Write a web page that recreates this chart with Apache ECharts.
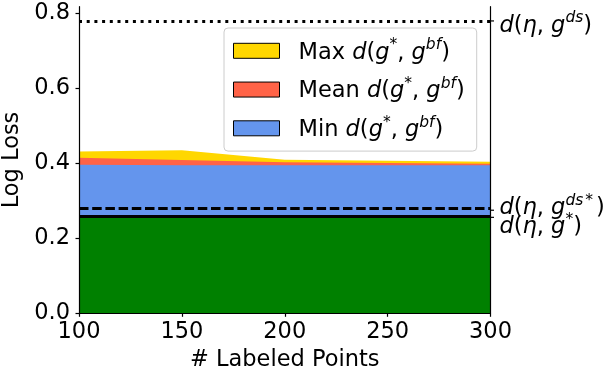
<!DOCTYPE html>
<html>
<head>
<meta charset="utf-8">
<script src="https://cdn.jsdelivr.net/npm/echarts@6/dist/echarts.min.js"></script>
<style>
  html, body { margin: 0; padding: 0; background: #fff; }
  #chart { width: 608px; height: 373px; }
</style>
</head>
<body>
<div id="chart"></div>
<script>
// Number of labeled points on the x axis
const labeledPoints = [100, 150, 200, 250, 300];

// Distance d(g*, g^bf) over the brute-force set: max / mean / min
const maxDist  = [0.432, 0.435, 0.410, 0.407, 0.404];
const meanDist = [0.415, 0.409, 0.403, 0.401, 0.399];
const minDist  = [0.396, 0.395, 0.395, 0.395, 0.395];

// Reference losses drawn as horizontal lines
const lossBest   = 0.256; // d(eta, g*)
const lossDsStar = 0.275; // d(eta, g^{ds*})
const lossDs     = 0.78;  // d(eta, g^{ds})

// Series names and their legend text (rich-text markup)
const seriesNames = ['Max', 'Mean', 'Min'];
const legendTexts = {
  Max:  '{n|Max }{i|d}{n|(}{i|g}{s|*}{n|, }{i|g}{s|bf}{n|)}',
  Mean: '{n|Mean }{i|d}{n|(}{i|g}{s|*}{n|, }{i|g}{s|bf}{n|)}',
  Min:  '{n|Min }{i|d}{n|(}{i|g}{s|*}{n|, }{i|g}{s|bf}{n|)}'
};

// Right-hand annotations for the reference lines
const sideValues = [lossDs, lossDsStar, lossBest];
const sideTexts = [
  '{i|d}{n|(}{i|η}{n|, }{i|g}{s|ds}{n|)}',
  '{i|d}{n|(}{i|η}{n|, }{i|g}{s|ds}{st|*}{np|)}',
  '{i|d}{n|(}{i|η}{n|, }{i|g}{s|*}{n|)}'
];

const FONT = 'DejaVu Sans';
const FS = 22.5;
const LH = 27;
const colors = { Max: '#FFD700', Mean: '#FF6347', Min: '#6495ED', best: '#008000' };

const rich = {
  i: { fontFamily: FONT, fontSize: FS, fontStyle: 'italic', color: '#000', lineHeight: LH, verticalAlign: 'bottom' },
  n: { fontFamily: FONT, fontSize: FS, color: '#000', lineHeight: LH, verticalAlign: 'bottom' },
  np: { fontFamily: FONT, fontSize: FS, color: '#000', lineHeight: LH, verticalAlign: 'bottom', padding: [0, 0, 0, 3] },
  s: { fontFamily: FONT, fontSize: 15.5, fontStyle: 'italic', color: '#000', lineHeight: LH, verticalAlign: 'top', padding: [0, 0, 3, 0] },
  st: { fontFamily: FONT, fontSize: 15.5, color: '#000', lineHeight: LH, verticalAlign: 'top', padding: [0, 0, 3, 2] }
};

const seriesData = { Max: maxDist, Mean: meanDist, Min: minDist };
const pairs = arr => labeledPoints.map((x, k) => [x, arr[k]]);

const areaSeries = seriesNames.map(name => ({
  name,
  type: 'line',
  data: pairs(seriesData[name]),
  showSymbol: false,
  symbol: 'none',
  smooth: false,
  silent: true,
  lineStyle: { width: 0 },
  itemStyle: { color: colors[name] },
  areaStyle: { color: colors[name], opacity: 1 },
  z: 2
}));

const yMin = 0, yMax = 0.818;

const option = {
  animation: false,
  backgroundColor: '#fff',
  grid: { left: 79, right: 117.5, top: 6.7, bottom: 59.7, containLabel: false, outerBoundsMode: 'none' },
  legend: {
    orient: 'vertical',
    left: 224,
    top: 28,
    padding: [9.3, 12, 9.3, 9],
    itemWidth: 46,
    itemHeight: 15,
    itemGap: 11.75,
    icon: 'rect',
    selectedMode: false,
    data: seriesNames,
    itemStyle: { borderColor: '#000', borderWidth: 1 },
    backgroundColor: 'rgba(255,255,255,0.8)',
    borderColor: '#cccccc',
    borderWidth: 1,
    borderRadius: 4,
    textStyle: {
      fontFamily: FONT, fontSize: FS, color: '#000', lineHeight: LH,
      padding: [0, 0, 0, 14], rich
    },
    formatter: name => legendTexts[name]
  },
  xAxis: [{
    type: 'value',
    min: 100, max: 300, interval: 50,
    z: 10,
    axisLine: { show: true, onZero: false, lineStyle: { color: '#000', width: 1.2 } },
    axisTick: { show: true, length: 3.5, lineStyle: { color: '#000', width: 1.2 } },
    axisLabel: { fontFamily: FONT, fontSize: FS, color: '#000', margin: 7 },
    splitLine: { show: false },
    name: '# Labeled Points',
    nameLocation: 'middle',
    nameGap: 33,
    nameTextStyle: { fontFamily: FONT, fontSize: FS, color: '#000' }
  }, {
    type: 'value', position: 'top',
    min: 100, max: 300, interval: 50,
    z: 10,
    axisLine: { show: true, lineStyle: { color: '#000', width: 1.2 } },
    axisTick: { show: false }, axisLabel: { show: false }, splitLine: { show: false }
  }],
  yAxis: [{
    type: 'value',
    min: yMin, max: yMax, interval: 0.2,
    z: 10,
    axisLine: { show: true, onZero: false, lineStyle: { color: '#000', width: 1.2 } },
    axisTick: { show: true, length: 3.5, lineStyle: { color: '#000', width: 1.2 } },
    axisLabel: {
      fontFamily: FONT, fontSize: FS, color: '#000', margin: 9,
      showMaxLabel: false,
      formatter: v => v.toFixed(1)
    },
    splitLine: { show: false },
    name: 'Log Loss',
    nameLocation: 'middle',
    nameRotate: 90,
    nameGap: 47,
    nameTextStyle: { fontFamily: FONT, fontSize: FS, color: '#000' }
  }, {
    type: 'value', position: 'right',
    min: yMin, max: yMax, interval: 0.2,
    z: 10,
    axisLine: { show: true, lineStyle: { color: '#000', width: 1.2 } },
    axisTick: { show: false }, axisLabel: { show: false }, splitLine: { show: false }
  }],
  series: [
    ...areaSeries,
    {
      name: 'best',
      type: 'line',
      data: pairs(labeledPoints.map(() => lossBest)),
      showSymbol: false,
      symbol: 'none',
      silent: true,
      lineStyle: { width: 0 },
      areaStyle: { color: colors.best, opacity: 1 },
      z: 3,
      markLine: {
        silent: true,
        symbol: 'none',
        label: { show: false },
        data: [
          { yAxis: lossBest,   lineStyle: { color: '#000', width: 3, type: 'solid' } },
          { yAxis: lossDsStar, lineStyle: { color: '#000', width: 3, type: [9.5, 3.7], cap: 'butt' } },
          { yAxis: lossDs,     lineStyle: { color: '#000', width: 3, type: [3, 4.7], cap: 'butt' } }
        ]
      }
    },
    {
      // tick marks and labels on the right edge for the reference lines
      type: 'custom',
      silent: true,
      clip: false,
      z: 12,
      data: sideValues.map((v, k) => [labeledPoints[labeledPoints.length - 1], v, k]),
      renderItem: (params, api) => {
        const k = api.value(2);
        const p = api.coord([api.value(0), api.value(1)]);
        const textShift = [3, -4, 8][k];
        return {
          type: 'group',
          children: [
            { type: 'line', shape: { x1: p[0], y1: p[1], x2: p[0] + 3.5, y2: p[1] },
              style: { stroke: '#000', lineWidth: 1.2 } },
            { type: 'text', x: p[0] + 9, y: p[1] + textShift,
              style: { text: sideTexts[k], rich, verticalAlign: 'middle', align: 'left',
                       fontFamily: FONT, fontSize: FS, fill: '#000' } }
          ]
        };
      }
    }
  ]
};

const chart = echarts.init(document.getElementById('chart'), null, { renderer: 'canvas' });
chart.setOption(option);
</script>
</body>
</html>
